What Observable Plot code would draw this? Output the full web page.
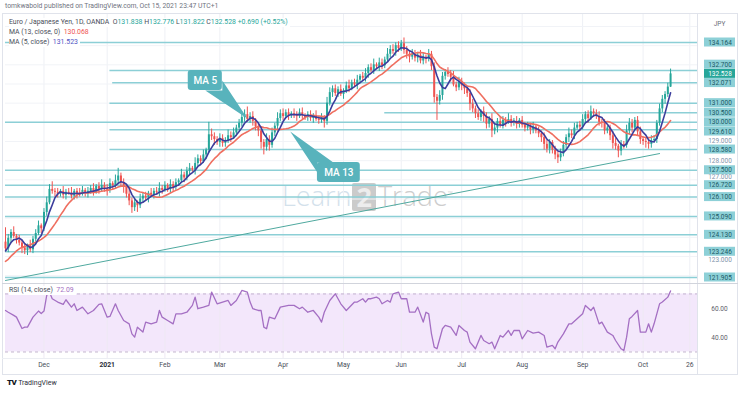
<!DOCTYPE html>
<html><head><meta charset="utf-8">
<script src="https://cdn.jsdelivr.net/npm/d3@7"></script>
<script src="https://cdn.jsdelivr.net/npm/@observablehq/plot@0.6"></script>
<style>
body{margin:0;background:#fff;font-family:Roboto,"Noto Sans",sans-serif;}
#root{position:relative;width:740px;height:393px;overflow:hidden;background:#fff;}
.lg{position:absolute;left:9px;font-size:6.9px;line-height:9px;color:#4a4e59;background:#fff;white-space:nowrap;padding-right:2px;}
</style></head><body><div id="root"></div>
<script>
// ---------------- DATA ----------------
const firstDate = "2020-11-11";
const lastAxisDate = "2021-10-29";
const priorCloses = [122.60,122.15,122.35,121.95,122.25,122.50,122.80,122.70,122.95,123.05,123.30,123.75];
const closes = [
123.40,123.95,124.25,124.05,123.85,123.70,123.45,123.30,123.55,123.35,
123.90,124.20,124.60,124.45,125.30,125.80,126.50,126.40,126.35,126.25,
126.40,126.20,126.35,126.30,126.15,126.40,126.30,126.25,126.45,126.30,
126.40,126.55,126.35,126.65,126.50,126.70,126.55,126.45,126.80,126.70,
126.95,127.20,126.85,126.60,126.25,125.90,125.55,125.80,125.65,126.00,
126.15,126.05,126.30,126.20,126.40,126.35,126.55,126.45,126.70,126.50,
126.75,126.60,126.85,126.95,127.25,127.10,127.45,127.60,127.50,127.85,
128.10,127.95,128.30,128.55,129.35,129.25,129.10,128.95,129.15,128.90,
129.05,129.30,129.20,129.45,129.70,129.95,130.25,130.40,130.15,130.30,
130.05,129.75,129.55,128.95,128.70,129.10,128.80,129.45,129.80,130.20,
130.45,130.30,130.50,130.35,130.45,130.40,130.30,130.50,130.35,130.25,
130.40,130.20,130.35,130.15,130.10,130.25,130.05,131.00,131.55,131.75,
131.50,131.70,131.45,131.65,131.90,131.75,132.05,131.95,132.20,132.40,
132.30,132.55,132.85,132.70,133.00,132.90,133.10,132.95,133.25,133.55,
133.80,133.70,134.00,133.85,134.10,133.75,133.55,133.40,133.55,133.35,
133.50,133.20,133.40,133.30,133.55,132.90,131.30,131.10,131.40,132.40,
132.60,132.50,132.35,131.95,131.80,132.10,131.90,131.75,131.50,130.95,
130.70,130.45,130.25,130.55,130.30,129.90,130.15,129.55,129.70,130.05,
129.85,130.10,130.00,130.15,129.95,130.05,129.90,130.10,129.85,129.70,
129.80,129.60,129.75,129.55,129.40,129.20,128.85,128.60,128.95,128.55,
128.30,128.15,128.35,128.80,129.20,129.40,129.30,129.70,129.85,129.75,
130.15,130.40,130.20,130.55,130.45,130.30,130.00,129.95,129.55,129.70,
129.30,128.90,128.75,128.50,128.85,128.80,129.55,129.95,129.70,130.10,
129.50,129.10,129.00,128.95,128.85,129.05,129.10,129.95,130.70,131.20,
131.45,131.838,132.528];
const wickUp = [
75,20,15,30,10,25,15,20,10,30, 15,20,25,10,20,30,25,40,15,20, 10,25,15,20,30,10,15,25,20,10,
20,15,25,10,20,30,15,20,25,10, 30,40,15,20,10,25,15,20,10,25, 15,20,10,25,15,20,30,15,20,10,
25,15,20,10,30,15,20,25,10,30, 20,15,25,10,65,30,20,15,25,20, 15,30,20,25,15,20,30,25,40,20,
25,15,20,10,15,30,20,25,15,30, 20,25,15,20,10,25,15,20,25,10, 15,20,10,25,15,20,10,30,25,15,
20,15,25,10,20,30,15,20,25,10, 20,25,15,20,30,10,25,20,15,30, 20,25,15,20,17,30,20,15,25,20,
15,25,20,10,25,15,20,15,25,20, 15,25,20,30,15,25,20,15,10,20, 25,15,20,10,25,20,15,30,20,15,
25,20,15,30,20,15,25,10,20,15, 20,15,25,10,20,15,25,20,15,10, 20,15,25,20,15,30,20,25,15,20,
25,15,20,30,15,20,25,15,20,10, 15,20,25,10,20,15,30,25,20,15, 20,25,15,20,10,25,20,15,25,20,
15,20,25];
const wickDn = [
15,20,25,10,20,15,30,20,25,15, 20,15,10,25,15,20,10,15,25,20, 15,20,25,10,15,20,30,15,10,20,
25,15,20,10,25,15,20,30,15,20, 15,20,25,30,20,25,30,20,35,15, 20,15,25,10,20,15,25,20,10,15,
20,25,15,20,10,25,15,20,10,25, 15,20,10,25,15,20,30,15,25,20, 20,15,25,10,20,15,20,25,15,20,
25,20,30,35,40,20,30,15,20,25, 15,20,10,25,15,20,25,10,20,15, 20,15,25,10,20,15,35,20,15,25,
15,20,10,25,15,20,10,15,25,20, 15,20,25,10,20,15,25,20,15,10, 20,15,25,20,15,20,25,30,15,20,
25,15,20,25,15,20,30,100,20,25, 20,15,25,10,20,15,25,30,20,35, 20,25,15,20,30,25,20,35,20,25,
15,20,25,10,20,15,25,20,15,20, 15,25,20,15,20,25,30,20,25,20, 25,30,20,15,20,25,15,20,10,20,
15,20,25,10,20,15,20,25,20,15, 25,30,20,35,25,20,15,20,25,15, 20,25,20,30,25,20,15,20,15,20,
25,15,2];
const levelPrices = [134.164,132.700,132.071,131.000,130.500,130.000,129.610,128.580,127.500,126.720,126.100,125.090,124.130,123.246,121.905];
const levelStart  = ["2020-11-11","2021-01-04","2021-01-05","2021-01-04","2021-05-24","2020-11-11","2021-01-04","2021-01-04","2020-11-11","2020-11-11","2020-11-11","2020-11-11","2020-11-11","2020-11-11","2020-11-11"];
const plainPrices = [129, 128, 127, 123];
const currentPrice = 132.528;
const trendDates = ["2020-11-11","2021-10-11"];
const trendPrices = [121.75, 128.37];
const rsiIdx = [0,1,3,4,6,7,8,10,12,13,14,15,16,17,19,21,22,24,25,26,28,30,32,34,35,37,38,40,41,43,45,46,47,48,50,51,53,55,56,57,59,61,62,64,66,68,69,70,72,74,75,77,79,81,82,84,86,88,89,90,92,93,94,95,96,98,100,103,105,107,108,110,112,114,115,116,118,120,122,124,127,128,130,131,132,133,135,136,137,139,140,141,143,144,146,147,149,150,152,153,154,155,156,157,159,160,162,164,165,167,168,169,171,173,174,176,177,178,180,181,183,184,185,187,188,190,192,194,196,197,199,200,201,203,205,206,208,210,211,213,214,216,217,219,221,222,224,225,226,227,228,230,231,233,234,235,236,238,239,241,242];
const rsiVal = [58.6,57.4,55.2,54,46.2,47.1,47.1,54,58.2,56.5,58.2,69,71.3,66.7,64.4,62.8,66,60.9,63.2,58.6,60.9,56.3,58.6,62.8,63.2,54,54.5,63.2,58.6,51.7,49.4,42.5,40.2,47.1,43.7,50.6,49.4,50.6,58.6,54,51.7,49.4,56.3,56.3,57.4,62.1,67.8,59.8,60.9,62.1,71.3,63.2,64.4,65.5,62.1,65.5,72.4,71.3,64.4,59.8,58.6,58.6,47.1,46,54,52.9,60.9,62.1,62.1,59.8,60.9,57.4,58.6,54,50.6,57.4,65.5,70.1,63.2,58.6,64.4,64.4,66.7,64.4,66.7,66.7,67.8,66.7,63.2,65.5,64.4,70.1,71.3,66.7,66.7,57.4,57.4,60.9,50.6,57.4,56.3,42.5,33.3,32.2,46,48.3,47.1,41.4,48.3,44.8,43.7,36.8,32.2,41.4,37.9,35.7,36.8,32.2,41.4,40.2,44.8,41.4,44.8,44.8,39.1,44.8,43,43.7,41.4,33.3,34.5,32.2,36.8,42.5,49.4,49.4,52.9,56.3,62.1,58.6,60.9,49.4,50.6,43.7,41.4,37.9,32.2,31,40.2,52.9,54.5,58.6,43.7,43.7,49.4,43.7,49.4,63.2,64.4,67.8,72.09];
const tickDates  = ["2020-12-01","2021-01-01","2021-02-01","2021-03-01","2021-04-01","2021-05-03","2021-06-01","2021-07-01","2021-08-02","2021-09-01","2021-10-01","2021-10-26"];
const tickLabels = ["Dec","2021","Feb","Mar","Apr","May","Jun","Jul","Aug","Sep","Oct","26"];
const rsiAxisValues = [60, 40];
const ohlcLetters = ["O","H","L","C"];
const ohlcValues = ["131.838","132.776","131.822","132.528"];
const changeText = "+0.690 (+0.52%)";
const ma13Text = "130.068", ma5Text = "131.523", rsiText = "72.09";
const calloutLabels = ["MA 5", "MA 13"];
const calloutBox = [[66.5, 78.9, 131.66, 132.70], [113.5, 129.1, 126.86, 127.90]];
const calloutTail = [
  [[72.7,131.66],[78.9,131.66],[78.9,132.18],[88,130.20]],
  [[113.5,127.38],[113.5,127.90],[119.3,127.90],[103.6,129.52]]
];

// ---------------- LAYOUT ----------------
const GREEN = "#26a69a", RED = "#ef5350";
const LINE = "#8ccfd6", CALL = "#58b3bc";
const viewBars = 251.8;
const yDomain = [121.592, 135.625];
const mainH = 269, mainW = 697;
const root = document.getElementById("root");

const days = (() => { const out=[]; let t=Date.parse(firstDate+"T00:00:00Z"); const end=Date.parse(lastAxisDate+"T00:00:00Z");
  while(t<=end){const d=new Date(t); const w=d.getUTCDay(); if(w>0&&w<6) out.push(d.toISOString().slice(0,10)); t+=86400000;} return out; })();
const idxOf = s => days.indexOf(s);

const P = priorCloses.length;
const all = priorCloses.concat(closes);
const bars = closes.map((c,i)=>{const o = all[i+P-1]; return {i, open:o, close:c,
  high: Math.max(o,c)+wickUp[i]/100, low: Math.min(o,c)-wickDn[i]/100, color: c>=o?GREEN:RED};});
const sma = n => closes.map((c,i)=>({i, v: d3.mean(all.slice(i+P-n+1, i+P+1))}));
const ma5 = sma(5), ma13 = sma(13);
const levels = levelPrices.map((p,k)=>({p, s: idxOf(levelStart[k])}));
const trend = trendDates.map((d,k)=>({i: idxOf(d), p: trendPrices[k]}));
const ticks = tickDates.map((d,k)=>({i: idxOf(d), label: tickLabels[k]}));
const rsi = rsiIdx.map((i,k)=>({i, v: rsiVal[k]}));
const gridPrices = d3.range(122, 136, 1);

function place(el, x, y, z){ el.style.position="absolute"; el.style.left=x+"px"; el.style.top=y+"px"; el.style.zIndex=z; root.appendChild(el); }
function div(html, x, y, style, z){ const e=document.createElement("div"); e.innerHTML=html; e.setAttribute("style", style||""); place(e,x,y,z); return e; }

// frame
div("", 2, 13, "width:736px;height:362px;border:1px solid #e0e3eb;box-sizing:border-box;", 1);
div("tomkwabold published on TradingView.com, Oct 15, 2021 23:47 UTC+1", 5, 2, "font-size:6.8px;line-height:9px;color:#6f7380;white-space:nowrap;", 3);
div("", 697, 14, "width:1px;height:360px;background:#e0e3eb;", 1);
div("", 2, 283, "width:736px;height:1px;background:#d1d4dc;", 4);
div("", 2, 358, "width:695px;height:1px;background:#eceef3;", 1);

// watermark
div('<span style="color:#d3e1eb">Learn</span><span style="display:inline-block;background:#cbcbcb;color:#ededed;font-weight:700;border-radius:2px;padding:0 4px;margin:0 2px 0 1px;line-height:28px;vertical-align:-1px;">2</span><span style="color:#cdcdcd">Trade</span><sup style="font-size:7px;color:#d0d0d0">™</sup>',
  282, 179, "font-family:'Open Sans',sans-serif;font-size:27px;font-weight:300;line-height:30px;white-space:nowrap;", 1);

// main price panel
const main = Plot.plot({
  width: mainW, height: mainH, marginLeft: 5, marginRight: 0, marginTop: 0, marginBottom: 0,
  style: {background: "transparent", overflow: "visible", fontFamily: "Roboto"},
  x: {domain: [0, viewBars], axis: null},
  y: {domain: yDomain, axis: null},
  marks: [
    Plot.ruleX(ticks, {x: "i", stroke: "#eef0f5", strokeWidth: 1}),
    Plot.ruleY(gridPrices, {stroke: "#f1f3f7", strokeWidth: 1}),
    Plot.ruleY(levels, {y: "p", x1: "s", x2: () => viewBars, stroke: LINE, strokeWidth: 1.5}),
    Plot.line(trend, {x: "i", y: "p", stroke: "#4fa99f", strokeWidth: 1}),
    Plot.ruleX(bars, {x: "i", y1: "low", y2: "high", stroke: "color", strokeWidth: 1}),
    Plot.ruleX(bars, {x: "i", y1: "open", y2: "close", stroke: "color", strokeWidth: 2}),
    Plot.line(ma13, {x: "i", y: "v", stroke: "#ef6f60", strokeWidth: 1.6}),
    Plot.line(ma5, {x: "i", y: "v", stroke: "#3b3d9c", strokeWidth: 1.6}),
    ...calloutTail.map(t => Plot.line(t, {x: d => d[0], y: d => d[1], fill: CALL, stroke: "none"})),
    Plot.rect(calloutBox, {x1: d => d[0], x2: d => d[1], y1: d => d[2], y2: d => d[3], fill: CALL, rx: 3}),
    Plot.text(calloutBox, {x: d => (d[0]+d[1])/2, y: d => (d[2]+d[3])/2, text: (d,k) => calloutLabels[k], fill: "white", fontSize: 10, fontWeight: 500})
  ]
});
place(main, 0, 14, 2);

// right price axis
const yS = Plot.scale({y: {domain: yDomain, range: [mainH, 0]}});
const gap = 9.2;
let boxLabels = levelPrices.map(v => ({v, cur: false})).concat([{v: currentPrice, cur: true}])
  .map(d => ({...d, py: yS.apply(d.v)})).sort((a,b) => a.py - b.py);
const ci = boxLabels.findIndex(d => d.cur);
for (let k = ci-1; k >= 0; k--) boxLabels[k].py = Math.min(boxLabels[k].py, boxLabels[k+1].py - gap);
for (let k = ci+1; k < boxLabels.length; k++) boxLabels[k].py = Math.max(boxLabels[k].py, boxLabels[k-1].py + gap);
// plain grid labels: nudge away from nearby boxes (they peek out above/below like the reference)
const plainLabels = plainPrices.map(v => {
  let py = yS.apply(v);
  for (const b of boxLabels) { const d = py - b.py; if (Math.abs(d) < 8.5) py = b.py + (d < 0 ? -8.5 : 8.5); }
  return {v, py};
});
const axisR = Plot.plot({
  width: 43, height: mainH, margin: 0,
  style: {background: "transparent", overflow: "visible", fontFamily: "Roboto"},
  x: {domain: [0, 43], range: [0, 43], axis: null},
  y: {domain: yDomain, axis: null},
  marks: [
    Plot.text(plainLabels, {x: () => 22.5, y: d => yS.invert(d.py), text: d => d.v.toFixed(3), fill: "#7f93aa", fontSize: 6.5}),
    Plot.rect(boxLabels, {x1: () => 7, x2: () => 38, y1: d => yS.invert(d.py - 4.5), y2: d => yS.invert(d.py + 4.5), fill: d => d.cur ? GREEN : "#8dd0d7"}),
    Plot.text(boxLabels, {x: () => 22.5, y: d => yS.invert(d.py), text: d => d.v.toFixed(3), fill: d => d.cur ? "#ffffff" : "#1a5964", fontSize: 6.5}),
    Plot.text(["JPY"], {x: () => 22, y: () => yS.invert(9), text: d => d, fill: "#6a6d78", fontSize: 6.5})
  ]
});
place(axisR, 697, 14, 2);

// RSI panel
const rsiPlot = Plot.plot({
  width: mainW, height: 91, marginLeft: 5, marginRight: 0, marginTop: 0, marginBottom: 16,
  style: {background: "transparent", overflow: "visible", fontFamily: "Roboto"},
  x: {domain: [0, viewBars], axis: null},
  y: {domain: [25.5, 77.2], axis: null},
  marks: [
    Plot.rect([0], {x1: () => 0, x2: () => viewBars, y1: () => 30, y2: () => 70, fill: "#f3e7fb"}),
    Plot.ruleX(ticks, {x: "i", stroke: "#eee9f3", strokeWidth: 1}),
    Plot.ruleY([30, 70], {stroke: "#c3b3cf", strokeDasharray: "3,3", strokeWidth: 1}),
    Plot.line(rsi, {x: "i", y: "v", stroke: "#a46fc3", strokeWidth: 1.3}),
    Plot.text(ticks.filter(d => d.label !== "2021"), {x: "i", text: "label", frameAnchor: "bottom", dy: 8.5, fontSize: 6.8, fill: "#4a4e59"}),
    Plot.text(ticks.filter(d => d.label === "2021"), {x: "i", text: "label", frameAnchor: "bottom", dy: 8.5, fontSize: 6.8, fill: "#2a2e39", fontWeight: 700})
  ]
});
place(rsiPlot, 0, 283, 2);
const rsiAxis = Plot.plot({
  width: 43, height: 91, margin: 0, marginBottom: 16,
  style: {background: "transparent", overflow: "visible", fontFamily: "Roboto"},
  x: {domain: [0, 43], range: [0, 43], axis: null},
  y: {domain: [25.5, 77.2], axis: null},
  marks: [Plot.text(rsiAxisValues, {x: () => 22, y: d => d, text: d => d.toFixed(2), fill: "#5d606b", fontSize: 6.5})]
});
place(rsiAxis, 697, 283, 2);

// legends
function lg(html, y){ const e = div(html, 9, y, "", 5); e.className = "lg"; e.style.left = "9px"; e.style.top = y + "px"; }
lg('Euro / Japanese Yen, 1D, OANDA&nbsp; ' + ohlcLetters.map((l,k)=>`${l}<span style="color:${GREEN}">${ohlcValues[k]}</span>`).join(" ") + ` <span style="color:${GREEN}">${changeText}</span>`, 17.5);
lg(`MA (13, close, 0)&nbsp; <span style="color:${RED}">${ma13Text}</span>`, 27.5);
lg(`MA (5, close)&nbsp; <span style="color:#4f52c4">${ma5Text}</span>`, 37.5);
lg(`RSI (14, close)&nbsp; <span style="color:#a46fc3">${rsiText}</span>`, 285.5);

// footer
div('<span style="font-weight:900;font-size:8px;letter-spacing:-0.5px;color:#131722">TV</span>&nbsp;<span style="font-size:7px;color:#2a2e39">TradingView</span>', 7, 378, "white-space:nowrap;line-height:10px;font-size:7px;", 3);
</script></body></html>
